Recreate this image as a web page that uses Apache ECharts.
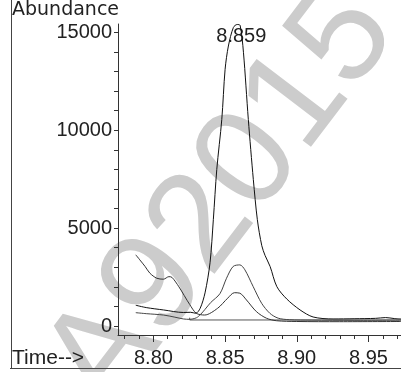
<!DOCTYPE html>
<html>
<head>
<meta charset="utf-8">
<script src="https://cdn.jsdelivr.net/npm/echarts@6/dist/echarts.min.js"></script>
<style>
  html, body { margin: 0; padding: 0; background: #fff; }
  #chart { width: 401px; height: 372px; }
</style>
</head>
<body>
<div id="chart"></div>
<script>
// 大峰 (main ion)
const bigTime = [8.7877, 8.7950, 8.8070, 8.8209, 8.8260, 8.8295, 8.8326, 8.8360, 8.8395, 8.8418, 8.8442, 8.8477, 8.8500, 8.8523, 8.8558, 8.8585, 8.8605, 8.8628, 8.8662, 8.8697, 8.8725, 8.8756, 8.8779, 8.8814, 8.8861, 8.8930, 8.9023, 8.9114, 8.9253, 8.9400, 8.9550, 8.9620, 8.9680, 8.9727];
const bigAbund = [1060, 940, 820, 690, 700, 650, 900, 1690, 3230, 5430, 7990, 10550, 13100, 14300, 15250, 15400, 15350, 13980, 10550, 7475, 5430, 4100, 3600, 3040, 2010, 1380, 820, 460, 360, 370, 390, 430, 380, 360];

// 中峰
const midTime = [8.7877, 8.7950, 8.8070, 8.8150, 8.8209, 8.8250, 8.8300, 8.8330, 8.8360, 8.8400, 8.8464, 8.8510, 8.8556, 8.8603, 8.8638, 8.8696, 8.8755, 8.8812, 8.8870, 8.8950, 8.9100, 8.9400, 8.9727];
const midAbund = [680, 630, 560, 450, 360, 340, 420, 600, 850, 1200, 1650, 2440, 3040, 3120, 2870, 2010, 1160, 650, 400, 320, 300, 290, 300];

// 小峰
const smallTime = [8.7877, 8.7905, 8.7942, 8.7975, 8.8023, 8.8070, 8.8108, 8.8130, 8.8178, 8.8253, 8.8299, 8.8357, 8.8448, 8.8518, 8.8565, 8.8603, 8.8649, 8.8719, 8.8789, 8.8858, 8.9000, 8.9300, 8.9727];
const smallAbund = [3635, 3380, 3040, 2700, 2440, 2390, 2520, 2480, 2000, 1100, 650, 560, 905, 1420, 1700, 1675, 1330, 730, 395, 270, 230, 220, 230];

// 积分基线
const baseTime = [8.8253, 8.8253, 8.9727];
const baseAbund = [425, 307, 307];

const peakTime = 8.8585;
const peakLabel = "8.859";

const xMajor = [8.80, 8.85, 8.90, 8.95];
const xMinor = [8.78, 8.79, 8.80, 8.81, 8.82, 8.83, 8.84, 8.85, 8.86, 8.87, 8.88, 8.89, 8.90, 8.91, 8.92, 8.93, 8.94, 8.95, 8.96, 8.97];
const yMajor = [0, 5000, 10000, 15000];
const yMinor = [0, 1000, 2000, 3000, 4000, 5000, 6000, 7000, 8000, 9000, 10000, 11000, 12000, 13000, 14000, 15000];

const zip = (t, v) => t.map((x, i) => [x, v[i]]);
const font = "Liberation Sans";

const chart = echarts.init(document.getElementById("chart"));

const traceStyle = (color) => ({
  type: "line",
  showSymbol: false,
  smooth: 0.3,
  lineStyle: { color: color, width: 1 },
  silent: true,
});

chart.setOption({
  animation: false,
  grid: { left: 118, right: 0, top: 24, bottom: 37 },
  xAxis: [
    {
      type: "value",
      min: 8.7753,
      max: 8.9727,
      axisLine: { onZero: false, lineStyle: { color: "#333", width: 1 } },
      axisTick: { customValues: xMajor, length: 7, lineStyle: { color: "#333" } },
      axisLabel: {
        customValues: xMajor,
        formatter: (v) => v.toFixed(2),
        fontFamily: font,
        fontSize: 20,
        color: "#222",
        margin: 13,
      },
      splitLine: { show: false },
    },
    {
      type: "value",
      min: 8.7753,
      max: 8.9727,
      position: "bottom",
      axisLine: { show: false, onZero: false },
      axisTick: { customValues: xMinor, length: 4, lineStyle: { color: "#333" } },
      axisLabel: { show: false },
      splitLine: { show: false },
    },
  ],
  yAxis: {
    type: "value",
    min: -460,
    max: 15424,
    axisLine: { show: true, onZero: false, lineStyle: { color: "#333", width: 1 } },
    axisTick: { show: true, customValues: yMinor, length: 4, lineStyle: { color: "#333" } },
    axisLabel: {
      customValues: yMajor,
      formatter: (v) => String(v),
      fontFamily: font,
      fontSize: 20,
      color: "#222",
      margin: 6,
    },
    splitLine: { show: false },
  },
  graphic: [
    {
      type: "text",
      z: -10,
      x: 222,
      y: 200,
      rotation: 0.92,
      style: {
        text: "A92015",
        fill: "#cccccc",
        font: "140px Liberation Sans",
        textAlign: "center",
        textVerticalAlign: "middle",
      },
    },
    {
      type: "line",
      shape: { x1: 11.5, y1: 0, x2: 11.5, y2: 369 },
      style: { stroke: "#444", lineWidth: 1 },
    },
    {
      type: "line",
      shape: { x1: 10, y1: 368.5, x2: 401, y2: 368.5 },
      style: { stroke: "#444", lineWidth: 1 },
    },
    {
      type: "text",
      left: 12,
      top: 1,
      style: { text: "Abundance", font: "19px DejaVu Sans", fill: "#222" },
    },
    {
      type: "text",
      left: 12,
      top: 348,
      style: { text: "Time-->", font: "21px Liberation Sans", fill: "#222" },
    },
  ],
  series: [
    Object.assign(traceStyle("#555"), { data: zip(baseTime, baseAbund), smooth: false }),
    Object.assign(traceStyle("#333"), { data: zip(smallTime, smallAbund) }),
    Object.assign(traceStyle("#444"), { data: zip(midTime, midAbund) }),
    Object.assign(traceStyle("#111"), { data: zip(bigTime, bigAbund) }),
    {
      // 峰顶保留时间标注
      type: "scatter",
      silent: true,
      symbolSize: 1,
      itemStyle: { color: "#fff", opacity: 0 },
      data: [[peakTime, bigAbund[bigTime.indexOf(peakTime)]]],
      label: {
        show: true,
        formatter: peakLabel,
        position: "bottom",
        distance: 2,
        offset: [4, 0],
        fontFamily: font,
        fontSize: 20,
        color: "#222",
        opacity: 1,
        textBorderWidth: 0,
      },
    },
  ],
});
</script>
</body>
</html>
